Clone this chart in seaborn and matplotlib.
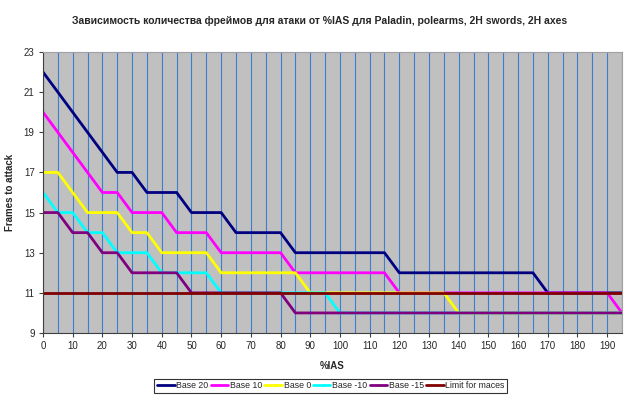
import matplotlib
matplotlib.use("Agg")
import matplotlib.pyplot as plt
import numpy as np
import pandas as pd
import seaborn as sns
from matplotlib.ticker import MultipleLocator

ias = [0, 5, 10, 15, 20, 25, 30, 35, 40, 45, 50, 55, 60, 65, 70, 75, 80, 85, 90, 95,
       100, 105, 110, 115, 120, 125, 130, 135, 140, 145, 150, 155, 160, 165, 170, 175,
       180, 185, 190, 195]

base_20 = [22, 21, 20, 19, 18, 17, 17, 16, 16, 16, 15, 15, 15, 14, 14, 14, 14, 13, 13, 13,
           13, 13, 13, 13, 12, 12, 12, 12, 12, 12, 12, 12, 12, 12, 11, 11, 11, 11, 11, 11]
base_10 = [20, 19, 18, 17, 16, 16, 15, 15, 15, 14, 14, 14, 13, 13, 13, 13, 13, 12, 12, 12,
           12, 12, 12, 12, 11, 11, 11, 11, 11, 11, 11, 11, 11, 11, 11, 11, 11, 11, 11, 10]
base_0 = [17, 17, 16, 15, 15, 15, 14, 14, 13, 13, 13, 13, 12, 12, 12, 12, 12, 12, 11, 11,
          11, 11, 11, 11, 11, 11, 11, 11, 10, 10, 10, 10, 10, 10, 10, 10, 10, 10, 10, 10]
base_m10 = [16, 15, 15, 14, 14, 13, 13, 13, 12, 12, 12, 12, 11, 11, 11, 11, 11, 11, 11, 11,
            10, 10, 10, 10, 10, 10, 10, 10, 10, 10, 10, 10, 10, 10, 10, 10, 10, 10, 10, 10]
base_m15 = [15, 15, 14, 14, 13, 13, 12, 12, 12, 12, 11, 11, 11, 11, 11, 11, 11, 10, 10, 10,
            10, 10, 10, 10, 10, 10, 10, 10, 10, 10, 10, 10, 10, 10, 10, 10, 10, 10, 10, 10]
mace_limit = [11] * 40

series_names = ["Base 20", "Base 10", "Base 0", "Base -10", "Base -15", "Limit for maces"]
series_values = [base_20, base_10, base_0, base_m10, base_m15, mace_limit]
colors = ["#000080", "#FF00FF", "#FFFF00", "#00FFFF", "#800080", "#800000"]
y_ticks = [9, 11, 13, 15, 17, 19, 21, 23]

sns.set_theme(style="ticks")
plt.rcParams["font.family"] = ["Liberation Sans", "DejaVu Sans"]

df = pd.concat(
    [pd.DataFrame({"ias": ias, "frames": vals, "series": name})
     for name, vals in zip(series_names, series_values)],
    ignore_index=True,
)

fig = plt.figure(figsize=(6.4, 3.99), dpi=100)
ax = fig.add_axes([0.0672, 0.1654, 0.9047, 0.7043])
ax.set_facecolor("#C0C0C0")

sns.lineplot(data=df, x="ias", y="frames", hue="series", hue_order=series_names,
             palette=colors, linewidth=2.0, ax=ax, legend=True)

ax.set_xlim(0, 195)
ax.set_ylim(9, 23)
ax.xaxis.set_major_locator(MultipleLocator(10))
ax.xaxis.set_minor_locator(MultipleLocator(5))
ax.set_yticks(y_ticks)
ax.grid(axis="x", which="both", color="#3C7FD0", linewidth=0.8)
ax.set_axisbelow(True)
ax.tick_params(axis="both", which="major", labelsize=7, length=3, width=0.8,
               color="#404040", pad=3)
ax.tick_params(axis="x", which="minor", length=0)
for s in ["left", "bottom"]:
    ax.spines[s].set_color("#404040")
    ax.spines[s].set_linewidth(0.8)
for s in ["top", "right"]:
    ax.spines[s].set_color("#A0A0A0")
    ax.spines[s].set_linewidth(0.8)

ax.set_xlabel("%IAS", fontsize=7, fontweight="bold", labelpad=7)
ax.set_ylabel("Frames to attack", fontsize=7, fontweight="bold", labelpad=6)
fig.suptitle("Зависимость количества фреймов для атаки от %IAS для Paladin, polearms, 2H swords, 2H axes",
             fontsize=7.5, fontweight="bold", x=0.5, y=0.96)

handles, labels = ax.get_legend_handles_labels()
leg = ax.legend(handles, labels, ncol=6, loc="center", bbox_to_anchor=(0.517, 0.0328),
                bbox_transform=fig.transFigure, fontsize=6.3, frameon=True,
                fancybox=False, edgecolor="black", handlelength=2.0,
                handletextpad=0.2, columnspacing=0.25, borderpad=0.3)
leg.get_frame().set_linewidth(0.8)

fig.savefig("out.png", dpi=100, facecolor="white")
